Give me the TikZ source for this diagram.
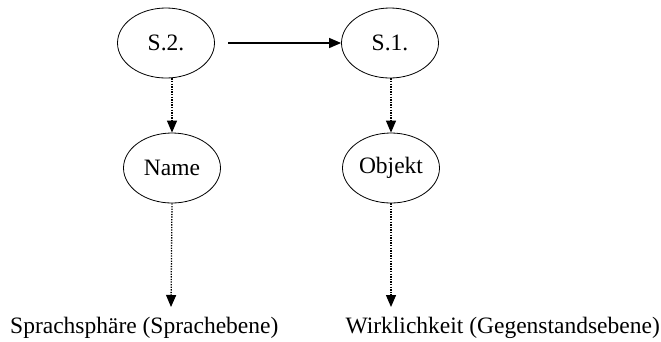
\documentclass[tikz,border=0pt]{standalone}
\usepackage{fontspec}
\setmainfont{Liberation Serif}
\usetikzlibrary{shapes.geometric,arrows.meta}
\begin{document}
\begin{tikzpicture}[x=1pt,y=-1pt,
  oval/.style={ellipse,draw,line width=0.8pt,minimum width=97pt,minimum height=70pt,inner sep=0pt,font=\fontsize{23.5}{28}\selectfont},
  label/.style={inner sep=0pt,font=\fontsize{23.5}{28}\selectfont},
  tip/.style={-{Triangle[length=12pt,width=10pt]}},
  solidarrow/.style={tip,line width=1.3pt},
  dotarrow/.style={tip,line width=1.3pt,dash pattern=on 1.3pt off 1.3pt}
]
\useasboundingbox (0,0) rectangle (661,341);
% upper row
\node[oval] (s2) at (166,43) {S.2.};
\node[oval] (s1) at (390,43) {S.1.};
% middle row
\node[oval] (name) at (172,168) {Name};
\node[oval] (obj) at (391,168) {Objekt};
% bottom labels
\node[label,anchor=base west] (sprache) at (10,333) {Sprachsphäre (Sprachebene)};
\node[label,anchor=base east] (wirk) at (660,333) {Wirklichkeit (Gegenstandsebene)};
\coordinate (e1) at (171,307);
\coordinate (e2) at (391,307);
\coordinate (a0) at (228,43);
% connectors
\draw[solidarrow] (a0) -- (s1.west);
\draw[dotarrow] (s2.south -| name.north) -- (name.north);
\draw[dotarrow] (s1.south -| obj.north) -- (obj.north);
\draw[dotarrow] (name.south) -- (e1);
\draw[dotarrow] (obj.south) -- (e2);
\end{tikzpicture}
\end{document}
